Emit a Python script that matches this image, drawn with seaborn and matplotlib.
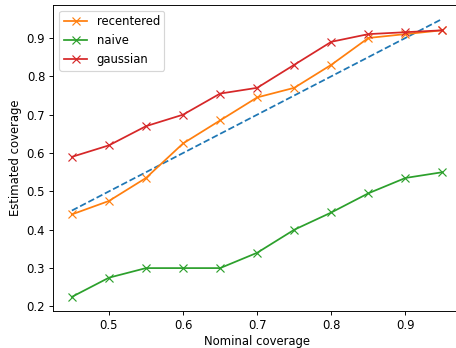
import matplotlib
matplotlib.use("Agg")
import matplotlib.pyplot as plt
import seaborn as sns
import pandas as pd

nominal = [0.45, 0.50, 0.55, 0.60, 0.65, 0.70, 0.75, 0.80, 0.85, 0.90, 0.95]
recentered = [0.44, 0.475, 0.535, 0.625, 0.685, 0.745, 0.77, 0.83, 0.90, 0.91, 0.92]
naive = [0.225, 0.275, 0.30, 0.30, 0.30, 0.34, 0.40, 0.445, 0.495, 0.535, 0.55]
gaussian = [0.59, 0.62, 0.67, 0.70, 0.755, 0.77, 0.83, 0.89, 0.91, 0.915, 0.92]

dpi = 84
fig, ax = plt.subplots(figsize=(456 / dpi, 348 / dpi), dpi=dpi)
fig.subplots_adjust(left=0.117, right=1.011, top=0.986, bottom=0.107)

sns.lineplot(x=nominal, y=nominal, ax=ax, linestyle="--", color="C0")
for name, vals, c in [("recentered", recentered, "C1"), ("naive", naive, "C2"), ("gaussian", gaussian, "C3")]:
    sns.lineplot(x=nominal, y=vals, ax=ax, marker="x", color=c, label=name,
                 markeredgecolor=c, markersize=6.5, markeredgewidth=1)

ax.set_xlabel("Nominal coverage", labelpad=2.5)
ax.set_ylabel("Estimated coverage")
ax.set_xticks([0.5, 0.6, 0.7, 0.8, 0.9])
ax.set_xticklabels(["0.5", "0.6", "0.7", "0.8", "0.9"])
ax.set_yticks([0.2, 0.3, 0.4, 0.5, 0.6, 0.7, 0.8, 0.9])
ax.set_yticklabels(["0.2", "0.3", "0.4", "0.5", "0.6", "0.7", "0.8", "0.9"])
ax.legend(loc="upper left")
fig.savefig("out.png", dpi=dpi)
